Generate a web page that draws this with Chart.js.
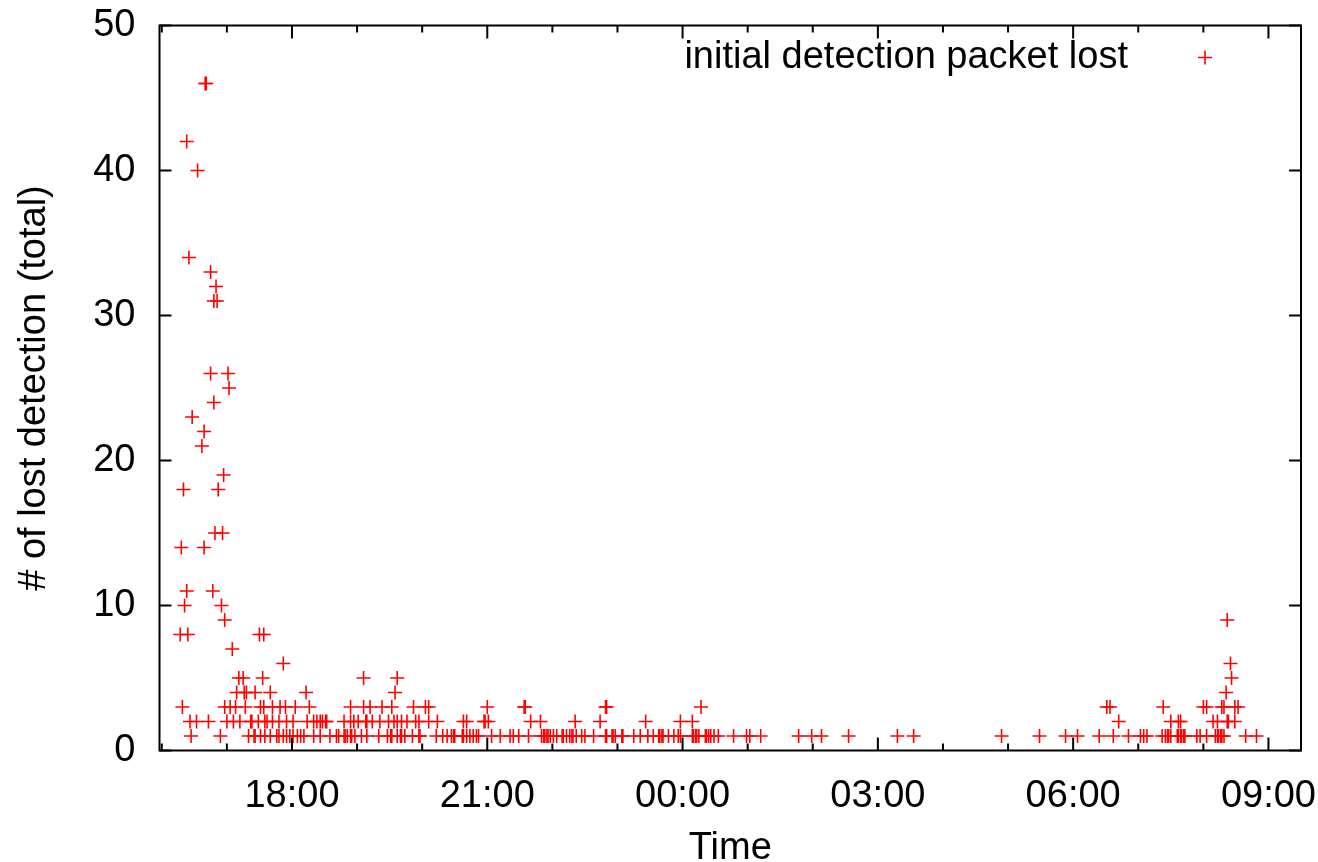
<!DOCTYPE html>
<html>
<head>
<meta charset="utf-8">
<title>Lost detections over time</title>
<script src="https://cdn.jsdelivr.net/npm/chart.js@4.4.1/dist/chart.umd.min.js"></script>
<style>
  html, body { margin: 0; padding: 0; background: #fff; }
  #wrap { width: 1318px; height: 862px; }
</style>
</head>
<body>
<div id="wrap"><canvas id="lostChart" width="1318" height="862"></canvas></div>
<script>
// time of each detection (HH:MM, night runs past midnight) and packets lost
const times = [
  '16:17','16:18','16:19','16:20','16:21','16:23','16:23','16:24','16:25','16:26',
  '16:27','16:28','16:32','16:33','16:37','16:39','16:39','16:40','16:41','16:43',
  '16:45','16:45','16:47','16:48','16:48','16:49','16:50','16:51','16:52','16:54',
  '16:55','16:56','16:57','16:58','16:58','17:00','17:01','17:02','17:03','17:05',
  '17:06','17:08','17:09','17:11','17:12','17:15','17:16','17:17','17:18','17:20',
  '17:22','17:23','17:25','17:26','17:26','17:29','17:30','17:31','17:31','17:33',
  '17:34','17:34','17:35','17:35','17:37','17:40','17:40','17:42','17:42','17:46',
  '17:48','17:48','17:49','17:52','17:52','17:54','17:55','17:55','17:58','18:01',
  '18:01','18:03','18:05','18:08','18:11','18:13','18:14','18:16','18:20','18:20',
  '18:23','18:26','18:26','18:28','18:31','18:32','18:35','18:41','18:43','18:48',
  '18:48','18:49','18:51','18:54','18:54','18:54','18:55','18:57','18:58','19:01',
  '19:04','19:06','19:06','19:08','19:09','19:09','19:12','19:14','19:20','19:21',
  '19:23','19:28','19:29','19:31','19:32','19:32','19:34','19:35','19:37','19:37',
  '19:37','19:40','19:41','19:41','19:44','19:46','19:51','19:52','19:54','19:57',
  '19:57','19:58','20:03','20:06','20:06','20:13','20:14','20:19','20:23','20:27',
  '20:29','20:30','20:37','20:38','20:38','20:41','20:41','20:44','20:47','20:50',
  '20:52','20:57','20:58','21:00','21:01','21:04','21:12','21:21','21:24','21:29',
  '21:34','21:35','21:38','21:40','21:49','21:50','21:52','21:53','21:55','21:56',
  '21:58','22:01','22:04','22:09','22:10','22:13','22:16','22:18','22:19','22:21',
  '22:22','22:27','22:30','22:38','22:44','22:49','22:49','22:50','22:50','22:55',
  '22:56','22:58','23:04','23:05','23:15','23:21','23:26','23:28','23:33','23:38',
  '23:39','23:41','23:42','23:47','23:52','23:56','23:58','23:58','00:09','00:09',
  '00:10','00:12','00:13','00:15','00:17','00:21','00:22','00:24','00:26','00:29',
  '00:33','00:47','00:59','01:02','01:12','01:47','01:59','02:08','02:33','03:18',
  '03:33','04:54','05:29','05:53','06:04','06:24','06:31','06:34','06:37','06:42',
  '06:51','07:02','07:05','07:08','07:22','07:23','07:25','07:27','07:28','07:30',
  '07:30','07:36','07:37','07:37','07:39','07:39','07:40','07:42','07:43','07:54',
  '07:57','08:00','08:03','08:03','08:09','08:11','08:13','08:13','08:14','08:16',
  '08:17','08:17','08:19','08:19','08:21','08:22','08:22','08:23','08:25','08:26',
  '08:29','08:29','08:32','08:39','08:49'
];
const lost = [
  8, 14, 3, 18, 10, 42, 11, 8, 34, 2,
  1, 23, 2, 40, 21, 22, 14, 46, 46, 2,
  33, 26, 11, 31, 24, 15, 32, 31, 18, 1,
  10, 15, 19, 9, 3, 2, 26, 25, 3, 7,
  2, 3, 4, 5, 2, 5, 4, 3, 4, 1,
  2, 2, 1, 1, 4, 2, 8, 1, 3, 5,
  8, 3, 1, 2, 2, 1, 4, 3, 2, 1,
  1, 2, 3, 1, 6, 3, 1, 2, 1, 1,
  2, 3, 1, 1, 1, 4, 2, 3, 1, 2,
  2, 1, 2, 2, 2, 2, 1, 1, 1, 1,
  2, 1, 1, 1, 2, 3, 1, 2, 1, 2,
  1, 3, 5, 2, 1, 2, 3, 2, 1, 2,
  3, 1, 2, 1, 1, 3, 2, 4, 1, 2,
  5, 1, 1, 2, 1, 2, 1, 3, 2, 1,
  2, 1, 3, 2, 3, 1, 2, 1, 1, 1,
  1, 1, 1, 1, 2, 1, 2, 1, 1, 1,
  1, 2, 2, 3, 2, 1, 1, 1, 1, 1,
  3, 3, 1, 2, 2, 1, 1, 1, 1, 1,
  1, 1, 1, 1, 1, 1, 1, 1, 1, 2,
  1, 1, 1, 1, 2, 1, 3, 1, 3, 1,
  1, 1, 1, 1, 1, 1, 2, 1, 1, 1,
  1, 1, 1, 1, 1, 1, 1, 2, 1, 2,
  1, 1, 1, 1, 3, 1, 1, 1, 1, 1,
  1, 1, 1, 1, 1, 1, 1, 1, 1, 1,
  1, 1, 1, 1, 1, 1, 3, 3, 1, 2,
  1, 1, 1, 1, 1, 3, 1, 1, 1, 1,
  2, 1, 1, 2, 1, 2, 1, 1, 1, 1,
  1, 3, 1, 3, 2, 1, 1, 2, 1, 1,
  1, 3, 1, 3, 4, 9, 2, 2, 6, 5,
  2, 3, 3, 1, 1
];

const hourTicks = [18, 21, 24, 27, 30, 33];   // hours since midnight of day one
const countTicks = [0, 10, 20, 30, 40, 50];
const seriesLabel = 'initial detection packet lost';

const FONT = '"Liberation Sans", Arial, Helvetica, sans-serif';
const RED = '#ff0000';

// times after midnight belong to the next day
function toHours(t) {
  const [h, m] = t.split(':').map(Number);
  return (h < 12 ? h + 24 : h) + m / 60;
}

const points = times.map((t, i) => ({ x: toHours(t), y: lost[i] }));

function drawCross(ctx, x, y, r) {
  ctx.beginPath();
  ctx.moveTo(x - r, y); ctx.lineTo(x + r, y);
  ctx.moveTo(x, y - r); ctx.lineTo(x, y + r);
  ctx.stroke();
}

// gnuplot-style box: border, inward ticks mirrored on all sides, key at top right
const framePlugin = {
  id: 'frame',
  afterDraw(chart) {
    const { ctx, chartArea: a, scales: { x, y } } = chart;
    ctx.save();
    ctx.strokeStyle = '#000';
    ctx.lineWidth = 2;
    ctx.strokeRect(a.left, a.top, a.width, a.height);

    ctx.beginPath();
    for (let h = Math.ceil(x.min); h <= x.max; h++) {
      const px = x.getPixelForValue(h);
      const len = h % 3 === 0 ? 13 : 7;
      ctx.moveTo(px, a.bottom); ctx.lineTo(px, a.bottom - len);
      ctx.moveTo(px, a.top); ctx.lineTo(px, a.top + len);
    }
    countTicks.forEach(v => {
      const py = y.getPixelForValue(v);
      ctx.moveTo(a.left, py); ctx.lineTo(a.left + 12, py);
      ctx.moveTo(a.right, py); ctx.lineTo(a.right - 12, py);
    });
    ctx.stroke();

    // key
    const ky = a.top + 32;
    ctx.font = '38px ' + FONT;
    ctx.fillStyle = '#000';
    ctx.textAlign = 'right';
    ctx.textBaseline = 'middle';
    ctx.fillText(seriesLabel, a.right - 173, ky);
    ctx.strokeStyle = RED;
    ctx.lineWidth = 1.6;
    drawCross(ctx, a.right - 96, ky, 7);
    ctx.restore();
  }
};

const tickFont = { family: FONT, size: 38 };

new Chart(document.getElementById('lostChart'), {
  type: 'scatter',
  data: {
    datasets: [{
      label: seriesLabel,
      data: points,
      pointStyle: 'cross',
      pointRadius: 7,
      pointHoverRadius: 7,
      borderColor: RED,
      backgroundColor: RED,
      borderWidth: 1.6
    }]
  },
  options: {
    responsive: false,
    animation: false,
    events: [],
    layout: { padding: { top: 25.5, right: 17, bottom: 0, left: 0 } },
    plugins: {
      legend: { display: false },
      tooltip: { enabled: false }
    },
    scales: {
      x: {
        type: 'linear',
        min: 15.965,
        max: 33.5,
        grid: { display: false },
        border: { display: false },
        afterBuildTicks: s => { s.ticks = hourTicks.map(v => ({ value: v })); },
        afterFit: s => {
          s.height = 111.5;
          s.paddingLeft = 0;
          s.paddingRight = 0;
        },
        ticks: {
          font: tickFont,
          color: '#000',
          padding: 15,
          maxRotation: 0,
          autoSkip: false,
          callback: v => String(v % 24).padStart(2, '0') + ':00'
        },
        title: {
          display: true,
          text: 'Time',
          color: '#000',
          font: { family: FONT, size: 38, lineHeight: 0.7 },
          padding: 0
        }
      },
      y: {
        min: 0,
        max: 50,
        grid: { display: false },
        border: { display: false },
        afterBuildTicks: s => { s.ticks = countTicks.map(v => ({ value: v })); },
        afterFit: s => {
          s.width = 159.5;
          s.paddingTop = 0;
          s.paddingBottom = 0;
        },
        ticks: { font: tickFont, color: '#000', padding: 16 },
        title: {
          display: true,
          text: '# of lost detection (total)',
          color: '#000',
          font: { family: FONT, size: 38 },
          padding: { top: 12, bottom: 0 }
        }
      }
    }
  },
  plugins: [framePlugin]
});
</script>
</body>
</html>
